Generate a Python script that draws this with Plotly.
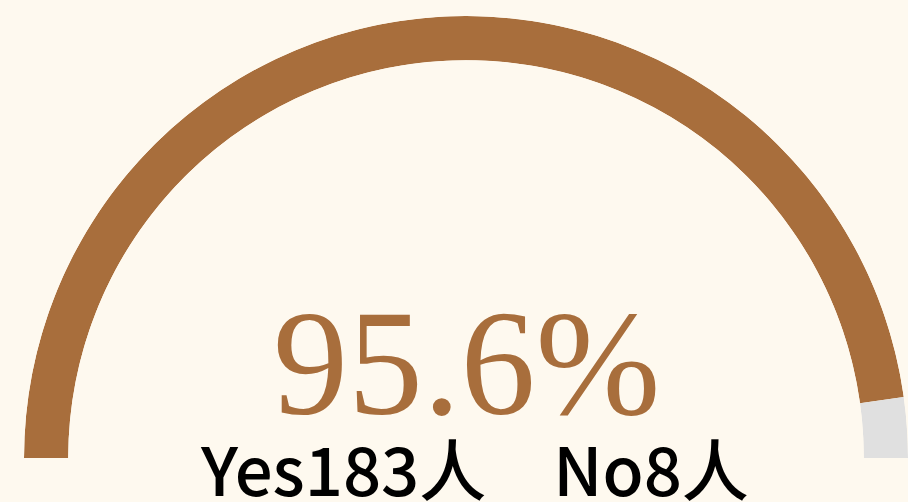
import plotly.graph_objects as go

labels = ["Yes", "No"]
counts = [183, 8]
rate_pct = 95.6

BROWN = "#a86e3c"
GRAY = "#e0e0e0"
BG = "#fef9ef"

# arc split: filled part from the left end, remainder on the right
filled = 180 * rate_pct / 100
rest = 180 - filled

fig = go.Figure()
fig.add_trace(
    go.Barpolar(
        r=[1, 1],
        theta=[180 - filled / 2, rest / 2],
        width=[filled, rest],
        marker=dict(color=[BROWN, GRAY], line=dict(width=0)),
        hoverinfo="skip",
    )
)

fig.update_layout(
    width=908,
    height=502,
    margin=dict(l=24, r=0, t=16, b=44),
    paper_bgcolor=BG,
    plot_bgcolor=BG,
    showlegend=False,
    polar=dict(
        sector=[0, 180],
        hole=0.9,
        bgcolor="rgba(0,0,0,0)",
        radialaxis=dict(visible=False, range=[0, 1]),
        angularaxis=dict(visible=False),
    ),
    annotations=[
        dict(
            text=f"{rate_pct}%",
            x=0.5, y=0.0, xref="paper", yref="paper",
            xanchor="center", yanchor="bottom", yshift=10,
            showarrow=False,
            font=dict(family="Liberation Serif", size=150, color=BROWN),
        ),
        dict(
            text=f"{labels[0]}{counts[0]}人\u3000{labels[1]}{counts[1]}人",
            x=0.5, y=0.0, xref="paper", yref="paper",
            xanchor="center", yanchor="top", xshift=8, yshift=42,
            showarrow=False,
            font=dict(family="Noto Sans CJK SC", size=67, color="#000000", weight=500),
        ),
    ],
)

# drop the page margin so the figure sits flush with the window
fig.write_html(
    "out.html",
    config={"displayModeBar": False},
    post_script="document.body.style.margin='0';document.body.style.background='" + BG + "';",
)
